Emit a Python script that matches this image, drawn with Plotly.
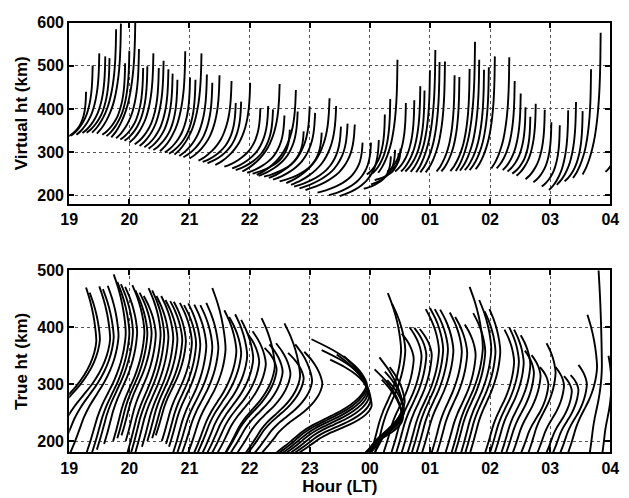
import plotly.graph_objects as go

# ---------------- tick labels ----------------
hour_vals = [19, 20, 21, 22, 23, 24, 25, 26, 27, 28]
hour_text = ["19", "20", "21", "22", "23", "00", "01", "02", "03", "04"]
vh_ticks = [200, 300, 400, 500, 600]
th_ticks = [200, 300, 400, 500]

# ---------------- virtual-height traces (upper panel) ----------------
# hour where each trace turns vertical, height of its top, its base height and its width (hours)
vt_x = [19.28, 19.39, 19.50, 19.60, 19.67, 19.78, 19.86, 19.93, 20.00, 20.10,
        20.16, 20.23, 20.30, 20.40, 20.49, 20.57, 20.65, 20.72, 20.80, 20.93,
        21.01, 21.10, 21.20, 21.29, 21.38, 21.50, 21.70, 21.77, 21.86, 22.01,
        22.18, 22.31, 22.39, 22.50, 22.58, 22.67, 22.77, 22.80, 22.90, 23.00,
        23.09, 23.20, 23.33, 23.44, 23.52, 23.63, 23.75, 23.88, 24.02, 24.15,
        24.35, 24.42, 24.48,
        24.25, 24.34, 24.46, 24.51, 24.60, 24.74, 24.84, 24.91, 25.00, 25.09,
        25.16, 25.25, 25.41, 25.49, 25.66, 25.75, 25.82, 25.90, 25.98, 26.08,
        26.32, 26.41, 26.51, 26.59, 26.67, 26.76, 26.91, 27.02, 27.16, 27.30,
        27.43, 27.54, 27.68, 27.84, 28.20]
vt_top = [440, 501, 529, 522, 518, 585, 598, 506, 535, 615,
          539, 495, 499, 529, 495, 512, 492, 482, 468, 534,
          473, 468, 529, 480, 461, 478, 465, 414, 417, 461,
          402, 407, 399, 458, 385, 352, 444, 394, 348, 406,
          391, 345, 425, 407, 359, 366, 364, 322, 322, 328,
          290, 305, 298,
          387, 423, 514, 308, 414, 420, 453, 443, 490, 537,
          509, 510, 478, 474, 493, 556, 514, 491, 497, 522,
          520, 465, 436, 404, 382, 412, 398, 369, 362, 397,
          416, 395, 492, 577, 420]
vt_base = [336, 338, 340, 344, 345, 345, 343, 340, 337, 334,
           332, 329, 326, 322, 318, 314, 311, 308, 305, 302,
           299, 296, 294, 291, 288, 285, 280, 277, 274, 270,
           266, 262, 258, 255, 252, 250, 247, 245, 243, 240,
           236, 232, 228, 224, 220, 216, 212, 206, 200, 198,
           215, 225, 235,
           248, 250, 252, 255, 255, 255, 255, 255, 254, 253,
           253, 253, 255, 255, 256, 256, 257, 258, 258, 260,
           262, 262, 258, 255, 250, 245, 237, 230, 220, 212,
           224, 232, 240, 248, 254]
vt_w = [0.30, 0.36, 0.38, 0.38, 0.38, 0.40, 0.40, 0.38, 0.38, 0.40,
        0.38, 0.38, 0.38, 0.40, 0.40, 0.40, 0.40, 0.40, 0.40, 0.42,
        0.42, 0.44, 0.45, 0.46, 0.48, 0.50, 0.55, 0.55, 0.56, 0.58,
        0.60, 0.60, 0.62, 0.62, 0.62, 0.62, 0.65, 0.65, 0.66, 0.68,
        0.70, 0.70, 0.72, 0.75, 0.78, 0.80, 0.82, 0.75, 0.70, 0.65,
        0.45, 0.40, 0.40,
        0.30, 0.30, 0.32, 0.22, 0.30, 0.32, 0.32, 0.32, 0.32, 0.32,
        0.32, 0.32, 0.30, 0.30, 0.32, 0.32, 0.32, 0.32, 0.32, 0.32,
        0.30, 0.30, 0.30, 0.30, 0.30, 0.32, 0.32, 0.30, 0.30, 0.32,
        0.32, 0.30, 0.30, 0.30, 0.28]

# normalised h'(f) trace shape: fraction of width vs fraction of height rise
vshape_u = [0.00, 0.20, 0.40, 0.55, 0.68, 0.78, 0.86, 0.92, 0.96, 0.985, 1.0]
vshape_v = [0.00, 0.05, 0.12, 0.19, 0.27, 0.36, 0.46, 0.57, 0.69, 0.83, 1.0]

# ---------------- true-height profiles (lower panel) ----------------
# top end of each profile, peak offset to the right of the top, peak height,
# span from peak back to the lower end, and lower-end height
tp_x = [19.28, 19.34, 19.50, 19.56, 19.64,
        19.74, 19.80, 19.86, 19.93, 20.05, 20.10, 20.17, 20.24, 20.32, 20.38,
        20.45, 20.53, 20.60, 20.68, 20.74, 20.84, 20.91, 20.98, 21.08, 21.18,
        21.28, 21.38,
        21.58, 21.66, 21.76, 21.86, 21.96, 22.05, 22.20, 22.25, 22.33, 22.44,
        22.58, 22.64, 22.76, 22.91,
        23.03, 23.20, 23.34, 23.45, 23.57, 23.73, 23.86,
        24.08, 24.16, 24.20, 24.29, 24.25, 24.33,
        24.30, 24.37, 24.53, 24.66, 24.74, 24.83, 24.93, 25.00, 25.08, 25.17,
        25.33, 25.42, 25.58, 25.66, 25.72, 25.82, 25.91, 25.99, 26.24, 26.32,
        26.40, 26.51, 26.58, 26.69, 26.83, 26.94, 27.09, 27.23, 27.34, 27.47,
        27.62, 27.80, 27.97]
tp_h = [470, 461, 472, 467, 473,
        493, 480, 476, 471, 474, 465, 461, 455, 469, 465,
        455, 455, 448, 446, 445, 443, 439, 442, 440, 439,
        443, 469,
        430, 418, 423, 413, 390, 393, 416, 364, 370, 372,
        407, 355, 370, 357,
        379, 360, 343, 352, 349, 334, 318,
        326, 347, 308, 307, 322, 330,
        460, 441, 389, 400, 399, 397, 432, 434, 432, 431,
        426, 418, 405, 471, 425, 448, 428, 432, 396, 400,
        396, 386, 359, 351, 330, 372, 330, 314, 316, 334,
        422, 510, 350]
pk_dx = [0.17, 0.17, 0.18, 0.18, 0.18,
         0.20, 0.20, 0.20, 0.20, 0.20, 0.20, 0.20, 0.20, 0.20, 0.20,
         0.20, 0.20, 0.20, 0.20, 0.20, 0.20, 0.20, 0.20, 0.20, 0.20,
         0.20, 0.22,
         0.20, 0.20, 0.20, 0.20, 0.20, 0.22, 0.22, 0.20, 0.22, 0.24,
         0.26, 0.26, 0.28, 0.30,
         0.92, 0.75, 0.62, 0.52, 0.42, 0.28, 0.17,
         0.45, 0.40, 0.35, 0.28, 0.30, 0.25,
         0.22, 0.22, 0.20, 0.20, 0.20, 0.20, 0.22, 0.22, 0.22, 0.22,
         0.20, 0.20, 0.18, 0.22, 0.20, 0.20, 0.18, 0.18, 0.16, 0.16,
         0.16, 0.16, 0.15, 0.15, 0.14, 0.15, 0.14, 0.13, 0.13, 0.14,
         0.16, 0.06, 0.05]
pk_h = [375, 378, 380, 382, 385,
        390, 390, 392, 392, 392, 390, 390, 388, 388, 386,
        384, 382, 380, 378, 376, 374, 372, 370, 368, 366,
        364, 362,
        358, 355, 350, 345, 340, 336, 332, 326, 322, 318,
        314, 310, 305, 300,
        300, 295, 290, 284, 278, 270, 262,
        248, 255, 240, 252, 262, 270,
        360, 360, 345, 350, 352, 352, 360, 362, 362, 360,
        358, 355, 352, 365, 358, 362, 358, 358, 340, 340,
        338, 335, 320, 315, 300, 320, 298, 288, 290, 300,
        330, 330, 300]
lo_w = [1.10, 1.10, 1.00, 0.90, 0.80,
        0.65, 0.62, 0.60, 0.55, 0.52, 0.50, 0.50, 0.50, 0.55, 0.55,
        0.55, 0.52, 0.50, 0.50, 0.50, 0.50, 0.50, 0.52, 0.55, 0.58,
        0.60, 0.62,
        0.70, 0.72, 0.74, 0.76, 0.78, 0.80, 0.82, 0.84, 0.86, 0.88,
        0.90, 0.92, 0.95, 1.00,
        1.50, 1.45, 1.40, 1.35, 1.30, 1.25, 1.20,
        0.60, 0.62, 0.60, 0.55, 0.55, 0.50,
        0.50, 0.50, 0.50, 0.50, 0.50, 0.50, 0.52, 0.52, 0.52, 0.52,
        0.50, 0.50, 0.50, 0.52, 0.50, 0.50, 0.50, 0.50, 0.48, 0.48,
        0.48, 0.48, 0.46, 0.46, 0.45, 0.45, 0.44, 0.42, 0.42, 0.44,
        0.48, 0.20, 0.15]
lo_h = [180, 180, 180, 180, 180,
        180, 180, 185, 195, 200, 205, 210, 200, 180, 180,
        180, 190, 200, 205, 210, 200, 195, 190, 180, 180,
        180, 180,
        180, 180, 180, 180, 180, 180, 180, 180, 180, 180,
        180, 180, 180, 180,
        180, 180, 180, 180, 180, 180, 180,
        180, 180, 180, 180, 180, 180,
        180, 180, 180, 180, 180, 180, 180, 180, 180, 180,
        180, 180, 180, 180, 180, 180, 180, 180, 180, 180,
        180, 180, 180, 180, 180, 180, 180, 180, 180, 180,
        180, 180, 180]

# normalised profile shapes: topside (height fraction, leftward fraction)
top_u = [0.0, 0.25, 0.50, 0.75, 1.0]
top_v = [0.0, 0.10, 0.30, 0.60, 1.0]
# bottomside S-shape (depth fraction below peak, leftward fraction)
low_u = [0.0, 0.1, 0.2, 0.3, 0.4, 0.5, 0.6, 0.7, 0.8, 0.9, 1.0]
low_v = [0.0, 0.03, 0.09, 0.18, 0.30, 0.45, 0.60, 0.72, 0.81, 0.90, 1.0]

# ---------------- build polylines ----------------
vx, vy = [], []
for xt, ht, hb, w in zip(vt_x, vt_top, vt_base, vt_w):
    for u, v in zip(vshape_u, vshape_v):
        vx.append(xt - w + w * u)
        vy.append(hb + (ht - hb) * v)
    vx.append(None)
    vy.append(None)

px, py = [], []
for xt, ht, dx, hm, w, hl in zip(tp_x, tp_h, pk_dx, pk_h, lo_w, lo_h):
    xp = xt + dx
    for u, v in reversed(list(zip(low_u, low_v))):
        px.append(xp - w * v)
        py.append(hm - (hm - hl) * u)
    for u, v in list(zip(top_u, top_v))[1:]:
        px.append(xp - dx * v)
        py.append(hm + (ht - hm) * u)
    px.append(None)
    py.append(None)

line_style = dict(color="black", width=1.9, shape="spline", smoothing=0.8)

fig = go.Figure()
fig.add_trace(go.Scatter(x=vx, y=vy, mode="lines", line=line_style,
                         connectgaps=False, showlegend=False, xaxis="x", yaxis="y"))
fig.add_trace(go.Scatter(x=px, y=py, mode="lines", line=line_style,
                         connectgaps=False, showlegend=False, xaxis="x2", yaxis="y2"))

W, H = 629, 498
xdom = [62 / W, 619 / W]
font = dict(family="Liberation Sans, Arial, sans-serif", size=16, color="black", weight="bold")
title_font = dict(family="Liberation Sans, Arial, sans-serif", size=17, color="black", weight="bold")

common_axis = dict(
    showline=True, linecolor="black", linewidth=2, mirror="ticks",
    ticks="inside", ticklen=5, tickwidth=1.5, tickcolor="black",
    showgrid=True, gridcolor="#555", griddash="dot", gridwidth=1,
    zeroline=False, tickfont=font,
)

fig.update_layout(
    width=W, height=H,
    margin=dict(l=0, r=0, t=0, b=0),
    paper_bgcolor="white", plot_bgcolor="white",
    xaxis=dict(domain=xdom, anchor="y", range=[19, 28], tickvals=hour_vals,
               ticktext=hour_text, **common_axis),
    yaxis=dict(domain=[1 - 199 / H, 1 - 15 / H], anchor="x", range=[180, 600],
               tickvals=vh_ticks,
               title=dict(text="Virtual ht (km)", font=title_font, standoff=5),
               **common_axis),
    xaxis2=dict(domain=xdom, anchor="y2", range=[19, 28], tickvals=hour_vals,
                ticktext=hour_text,
                title=dict(text="Hour (LT)", font=title_font, standoff=1),
                **common_axis),
    yaxis2=dict(domain=[1 - 451.7 / H, 1 - 266.7 / H], anchor="x2", range=[180, 500],
                tickvals=th_ticks,
                title=dict(text="True ht (km)", font=title_font, standoff=5),
                **common_axis),
)

fig.write_html("out.html")
